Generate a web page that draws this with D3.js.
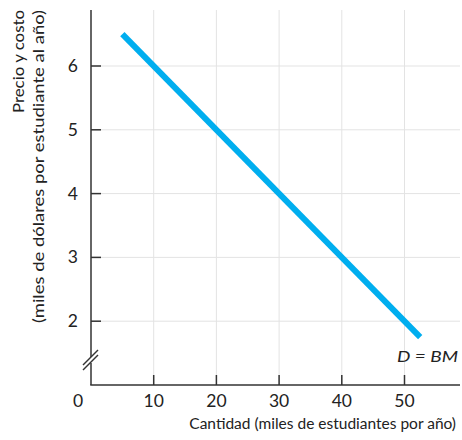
<!DOCTYPE html>
<html><head><meta charset="utf-8">
<script src="https://cdn.jsdelivr.net/npm/d3@7"></script>
<style>body{margin:0;background:#fff}svg{display:block}text{font-family:Lato,"Open Sans",sans-serif;fill:#222}</style>
</head><body><svg id="c" width="462" height="440"></svg>
<script>
const xTicks=[10,20,30,40,50];
const yTicks=[2,3,4,5,6];
const demandQ=[5,52.5];
const demandP=[6.5,1.75];
const curveLabel="D = BM";
const xTitle="Cantidad (miles de estudiantes por año)";
const yTitle1="Precio y costo";
const yTitle2="(miles de dólares por estudiante al año)";

const svg=d3.select("#c");
const x=d3.scaleLinear().domain([0,50]).range([91,404.5]);
const y=d3.scaleLinear().domain([1,6]).range([385,66]);
const plotTop=10,plotRight=460;

// grid
svg.append("g").selectAll("line").data(xTicks).join("line")
 .attr("x1",d=>x(d)).attr("x2",d=>x(d)).attr("y1",plotTop).attr("y2",y(1))
 .attr("stroke","#e3e3e3").attr("stroke-width",1);
svg.append("g").selectAll("line").data(yTicks).join("line")
 .attr("x1",x(0)).attr("x2",plotRight).attr("y1",d=>y(d)).attr("y2",d=>y(d))
 .attr("stroke","#e3e3e3").attr("stroke-width",1);

// demand line
const pts=demandQ.map((q,i)=>[x(q),y(demandP[i])]);
svg.append("path").attr("d",d3.line()(pts)).attr("stroke","#00AEEF")
 .attr("stroke-width",6).attr("fill","none");

// axes
const ax=svg.append("g").attr("stroke","#333").attr("stroke-width",1.5);
ax.append("line").attr("x1",x(0)).attr("x2",x(0)).attr("y1",plotTop).attr("y2",y(1));
ax.append("line").attr("x1",x(0)-0.75).attr("x2",plotRight).attr("y1",y(1)).attr("y2",y(1));
ax.selectAll(".xt").data(xTicks).join("line").attr("x1",d=>x(d)).attr("x2",d=>x(d))
 .attr("y1",y(1)).attr("y2",y(1)-10);
ax.selectAll(".yt").data(yTicks).join("line").attr("x1",x(0)).attr("x2",x(0)+10)
 .attr("y1",d=>y(d)).attr("y2",d=>y(d));
// axis break
const by=358;
svg.append("rect").attr("x",x(0)-3).attr("y",by-1).attr("width",6).attr("height",6).attr("fill","#fff");
[0,5].forEach(o=>{
 svg.append("line").attr("x1",x(0)-8).attr("y1",by+7+o).attr("x2",x(0)+7).attr("y2",by-8+o)
  .attr("stroke","#333").attr("stroke-width",1.5);
});

// tick labels
svg.append("g").selectAll("text").data([0,...xTicks]).join("text")
 .attr("x",d=>d===0?x(0)-13:x(d)).attr("y",407).attr("text-anchor","middle")
 .attr("font-size",17.5).text(d=>d);
svg.append("g").selectAll("text").data(yTicks).join("text")
 .attr("x",x(0)-13).attr("y",d=>y(d)+6).attr("text-anchor","end")
 .attr("font-size",17.5).text(d=>d);

// titles
svg.append("text").attr("x",456).attr("y",429).attr("text-anchor","end")
 .attr("font-size",15.5).text(xTitle);
svg.append("text").attr("transform","translate(24,10) rotate(-90)").attr("text-anchor","end")
 .attr("font-size",16).attr("textLength",103).attr("lengthAdjust","spacingAndGlyphs").text(yTitle1);
svg.append("text").attr("transform","translate(44,10) rotate(-90)").attr("text-anchor","end")
 .attr("font-size",16).attr("textLength",313).attr("lengthAdjust","spacingAndGlyphs").text(yTitle2);
svg.append("text").attr("x",458).attr("y",362).attr("text-anchor","end")
 .attr("font-size",16).attr("font-style","italic").attr("textLength",61).attr("lengthAdjust","spacingAndGlyphs").text(curveLabel);
</script></body></html>
